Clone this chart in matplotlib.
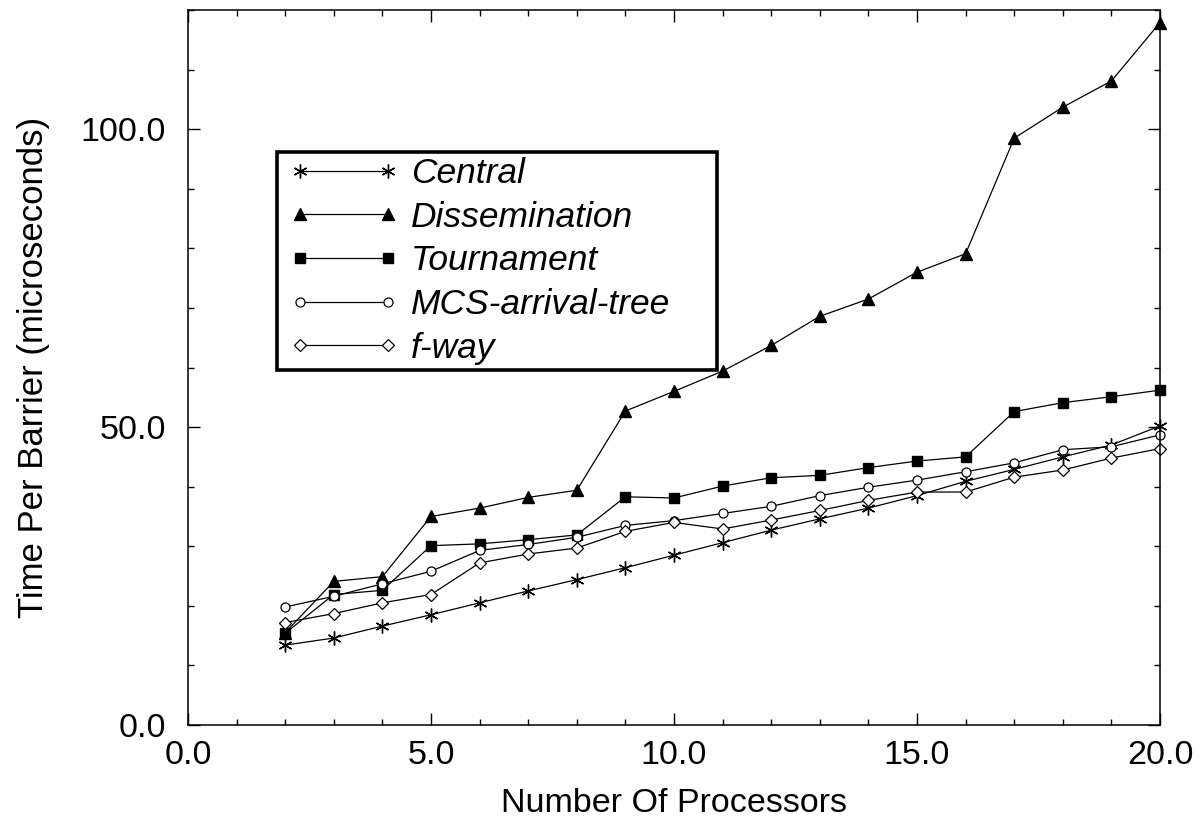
import matplotlib
matplotlib.use("Agg")
import matplotlib.pyplot as plt
from matplotlib.ticker import MultipleLocator, FormatStrFormatter
from matplotlib.legend_handler import HandlerLine2D
from matplotlib.lines import Line2D

plt.rcParams['font.family'] = ['Liberation Sans', 'DejaVu Sans']

processors = [2, 3, 4, 5, 6, 7, 8, 9, 10, 11, 12, 13, 14, 15, 16, 17, 18, 19, 20]

central = [13.4, 14.6, 16.6, 18.5, 20.5, 22.5, 24.4, 26.4, 28.5, 30.6,
           32.7, 34.6, 36.4, 38.5, 40.9, 42.9, 45.0, 47.0, 50.2]
dissemination = [15.5, 24.1, 24.9, 35.0, 36.4, 38.2, 39.4, 52.7, 56.0, 59.4,
                 63.7, 68.6, 71.5, 76.0, 79.1, 98.5, 103.7, 108.1, 117.9]
tournament = [15.4, 21.9, 22.6, 30.1, 30.4, 31.1, 31.9, 38.3, 38.1, 40.1,
              41.5, 41.9, 43.2, 44.3, 45.0, 52.6, 54.1, 55.1, 56.2]
mcs_tree = [19.8, 21.6, 23.7, 25.8, 29.3, 30.3, 31.5, 33.5, 34.3, 35.5,
            36.7, 38.5, 39.9, 41.1, 42.5, 44.0, 46.2, 46.7, 48.7]
f_way = [17.2, 18.7, 20.5, 21.9, 27.2, 28.7, 29.7, 32.5, 34.0, 32.9,
         34.4, 36.0, 37.7, 39.1, 39.1, 41.6, 42.8, 44.8, 46.4]

labels = ["Central", "Dissemination", "Tournament", "MCS-arrival-tree", "f-way"]

fig = plt.figure(figsize=(12.02, 8.23), dpi=100)
ax = fig.add_axes([0.1564, 0.1191, 0.8087, 0.8687])

lw = 0.9
ax.plot(processors, central, color='black', lw=lw, marker=(6, 2, 0),
        markersize=10, markeredgewidth=1.0, clip_on=False, label=labels[0])
ax.plot(processors, dissemination, color='black', lw=lw, marker='^',
        markersize=9, markerfacecolor='black', clip_on=False, label=labels[1])
ax.plot(processors, tournament, color='black', lw=lw, marker='s',
        markersize=7.2, markerfacecolor='black', clip_on=False, label=labels[2])
ax.plot(processors, mcs_tree, color='black', lw=lw, marker='o',
        markersize=6.5, markerfacecolor='white', markeredgewidth=0.9,
        clip_on=False, label=labels[3])
ax.plot(processors, f_way, color='black', lw=lw, marker='D',
        markersize=6.6, markerfacecolor='white', markeredgewidth=0.9,
        clip_on=False, label=labels[4])

ax.set_xlim(0, 20)
ax.set_ylim(0, 120)
ax.xaxis.set_major_locator(MultipleLocator(5))
ax.xaxis.set_minor_locator(MultipleLocator(1))
ax.yaxis.set_major_locator(MultipleLocator(50))
ax.yaxis.set_minor_locator(MultipleLocator(10))
ax.xaxis.set_major_formatter(FormatStrFormatter('%.1f'))
ax.yaxis.set_major_formatter(FormatStrFormatter('%.1f'))

ax.tick_params(which='both', direction='in', top=True, right=True,
               width=1, labelsize=24.5)
ax.tick_params(which='major', length=8.6)
ax.tick_params(which='minor', length=4.3)
ax.tick_params(axis='x', which='major', pad=11)
ax.tick_params(axis='y', which='major', pad=16)
for s in ax.spines.values():
    s.set_linewidth(1.1)

ax.set_xlabel("Number Of Processors", fontsize=24.5, labelpad=12)
ax.set_ylabel("Time Per Barrier (microseconds)", fontsize=25, labelpad=22)

# legend box: wider than its text, as in the original
leg = ax.legend(loc='upper left', bbox_to_anchor=(0.0916, 0.4972, 0.4527, 0.3045),
                mode='expand', borderaxespad=0, fancybox=False, framealpha=1,
                numpoints=2, handlelength=3.49, handletextpad=0.15,
                labelspacing=0.3, borderpad=0.15,
                handler_map={Line2D: HandlerLine2D(marker_pad=0.5)},
                prop={'style': 'italic', 'size': 25.5})
leg.get_frame().set_edgecolor('black')
leg.get_frame().set_linewidth(2.6)

plt.savefig("out.png", dpi=100)
